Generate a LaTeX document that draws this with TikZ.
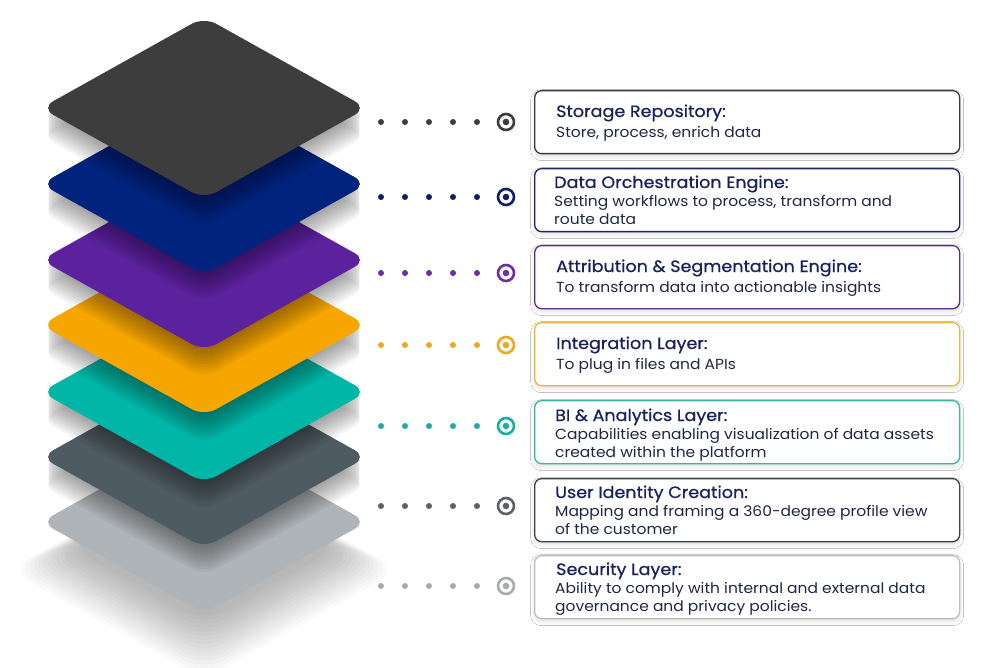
\documentclass[tikz,border=0pt]{standalone}
\usepackage{fontspec}
\setmainfont{Poppins}[FakeStretch=1.06]
\newfontfamily\medfont[FakeBold=0.7,FakeStretch=1.07]{Poppins}
\usetikzlibrary{shadows.blur}
\definecolor{c1}{HTML}{3D3D3D}
\definecolor{c2}{HTML}{00237D}
\definecolor{c3}{HTML}{5C229E}
\definecolor{c4}{HTML}{F7A600}
\definecolor{c5}{HTML}{00B6A6}
\definecolor{c6}{HTML}{4F5B62}
\definecolor{c7}{HTML}{AFB4B8}
\definecolor{r1}{HTML}{3D3D3D}
\definecolor{r2}{HTML}{0E1F6B}
\definecolor{r3}{HTML}{6B2FA6}
\definecolor{r4}{HTML}{F0A81F}
\definecolor{r5}{HTML}{1AAE9F}
\definecolor{r6}{HTML}{5C6166}
\definecolor{r7}{HTML}{A8ABAD}
\definecolor{b1}{HTML}{3B3B3B}
\definecolor{b2}{HTML}{1B2563}
\definecolor{b3}{HTML}{5B2E8E}
\definecolor{b4}{HTML}{F2B53C}
\definecolor{b5}{HTML}{36B5A8}
\definecolor{b6}{HTML}{3C4247}
\definecolor{b7}{HTML}{BCBEC0}
\definecolor{ttlc}{HTML}{19215E}
\definecolor{dscc}{HTML}{1F2646}
\newcommand{\dia}{(-163,0) -- (0,-91) -- (163,0) -- (0,91) -- cycle}
\tikzset{
  boxst/.style={rectangle, rounded corners=7pt, line width=1.3pt, fill=white,
    minimum width=425pt, minimum height=63pt, anchor=north west, inner sep=0pt,
    blur shadow={shadow xshift=0pt, shadow yshift=-3pt, shadow blur radius=4pt, shadow opacity=12}},
  ttl/.style={anchor=base west, inner sep=0pt, text=ttlc, font=\medfont\fontsize{16.4}{18}\selectfont},
  dsc/.style={anchor=base west, inner sep=0pt, text=dscc, font=\fontsize{14.6}{18}\selectfont},
  dotst/.style={circle, inner sep=0pt, minimum size=6pt},
  targ/.style={circle, inner sep=0pt, minimum size=16pt, line width=2.6pt, fill=white},
}
\begin{document}
\begin{tikzpicture}[x=1pt,y=-1pt]
\useasboundingbox (0,0) rectangle (984,668);
\fill[white] (0,0) rectangle (984,668);
% big soft shadow under the stack
\foreach \k in {0,...,14}{
  \begin{scope}[shift={(204,{548+1.6*\k})}, scale={0.82+0.027*\k}]
    \fill[black, opacity=0.02, rounded corners=24pt] \dia;
  \end{scope}
}
% layers from bottom to top, each with the shadow of the layer above
\foreach \c/\col/\up in {522/c7/457, 457/c6/392, 392/c5/325, 325/c4/260, 260/c3/184, 184/c2/108}{
  \begin{scope}[shift={(204,\c)}]
    \fill[\col, rounded corners=14pt] \dia;
  \end{scope}
  \begin{scope}
    \begin{scope}[shift={(204,\c)}]
      \clip[rounded corners=14pt] \dia;
    \end{scope}
    \foreach \k in {1,...,10}{
      \begin{scope}[shift={(204,{\up+2.8*\k})}]
        \fill[black, opacity=0.04, rounded corners=14pt] \dia;
      \end{scope}
    }
  \end{scope}
}
\begin{scope}[shift={(204,108)}]
  \fill[c1, rounded corners=14pt] \dia;
\end{scope}
% dotted rows and targets
\foreach \i/\y in {1/122, 2/197, 3/273, 4/345, 5/426, 6/506, 7/586}{
  \foreach \j/\x in {1/381, 2/405, 3/429, 4/453, 5/477}{
    \node[dotst, fill=r\i] (d\i\j) at (\x,\y) {};
  }
  \node[targ, draw=r\i] (tg\i) at (506,\y) {};
  \node[circle, inner sep=0pt, minimum size=6.6pt, fill=r\i] (tc\i) at (tg\i) {};
}
% boxes
\node[boxst, draw=b1] (box1) at (534,90) {};
\node[boxst, draw=b2] (box2) at (534,168) {};
\node[boxst, draw=b3] (box3) at (534,245) {};
\node[boxst, draw=b4] (box4) at (534,322) {};
\node[boxst, draw=b5] (box5) at (534,400) {};
\node[boxst, draw=b6] (box6) at (534,478) {};
\node[boxst, draw=b7] (box7) at (534,555) {};
% texts
\node[ttl] (t1) at (556,117) {Storage Repository:};
\node[dsc] (s1a) at (556,138) {Store, process, enrich data};
\node[ttl] (t2) at (554,188) {Data Orchestration Engine:};
\node[dsc] (s2a) at (554,207) {Setting workflows to process, transform and};
\node[dsc] (s2b) at (554,225) {route data};
\node[ttl] (t3) at (556,272) {Attribution \& Segmentation Engine:};
\node[dsc] (s3a) at (556,292) {To transform data into actionable insights};
\node[ttl] (t4) at (556,349) {Integration Layer:};
\node[dsc] (s4a) at (556,369) {To plug in files and APIs};
\node[ttl] (t5) at (555,421) {BI \& Analytics Layer:};
\node[dsc] (s5a) at (555,439) {Capabilities enabling visualization of data assets};
\node[dsc] (s5b) at (555,457) {created within the platform};
\node[ttl] (t6) at (555,498) {User Identity Creation:};
\node[dsc] (s6a) at (555,516) {Mapping and framing a 360-degree profile view};
\node[dsc] (s6b) at (555,534) {of the customer};
\node[ttl] (t7) at (556,575) {Security Layer:};
\node[dsc] (s7a) at (555,593) {Ability to comply with internal and external data};
\node[dsc] (s7b) at (555,611) {governance and privacy policies.};
\end{tikzpicture}
\end{document}
